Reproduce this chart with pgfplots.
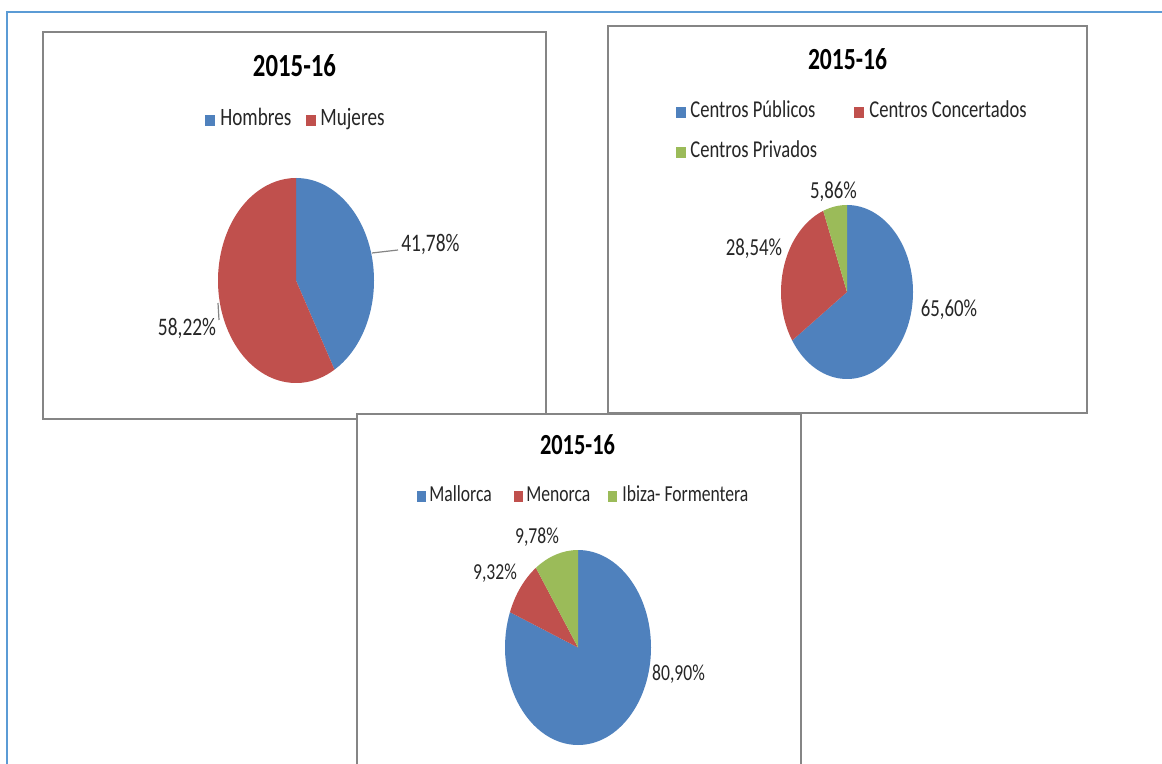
\documentclass[border=0pt]{standalone}
\usepackage{pgfplots}
\pgfplotsset{compat=1.18}
\usepackage{pgfplotstable}
\usepackage{graphicx}
\usepackage{fontspec}
\setmainfont{Carlito}

\definecolor{pieblue}{HTML}{4F81BD}
\definecolor{piered}{HTML}{C0504D}
\definecolor{piegreen}{HTML}{9BBB59}
\definecolor{pageblue}{HTML}{5B9BD5}
\definecolor{framegray}{HTML}{858585}
\definecolor{labelgray}{HTML}{262626}

% shares in percent, clockwise from 12 o'clock
\pgfplotstableread{
share colour
41.78 pieblue
58.22 piered
}\sexo
\pgfplotstableread{
share colour
65.60 pieblue
28.54 piered
5.86  piegreen
}\centros
\pgfplotstableread{
share colour
80.90 pieblue
9.32  piered
9.78  piegreen
}\islas

% 1 px of the reference = 0.5pt
% #1 table, #2 #3 centre, #4 #5 radii (px)
\newcommand{\pie}[5]{%
  \pgfplotstablegetrowsof{#1}%
  \pgfmathtruncatemacro\lastrow{\pgfplotsretval-1}%
  \pgfmathsetmacro\rxl{#4*0.5}%
  \pgfmathsetmacro\ryl{#5*0.5}%
  \gdef\startangle{90}%
  \foreach \r in {0,...,\lastrow}{%
    \pgfplotstablegetelem{\r}{share}\of#1\let\share\pgfplotsretval
    \pgfplotstablegetelem{\r}{colour}\of#1\let\colour\pgfplotsretval
    \pgfmathsetmacro\endangle{\startangle-3.6*\share}%
    \fill[fill=\colour] (axis cs:#2,#3) -- ++(\startangle:\rxl pt and \ryl pt)
      arc[start angle=\startangle, end angle=\endangle,
          x radius=\rxl pt, y radius=\ryl pt] -- cycle;
    \xdef\startangle{\endangle}%
  }%
}

% narrow, tall text as in the reference
\newcommand{\lbl}[2]{\fontsize{#1}{#1}\selectfont\scalebox{1}[1.3]{#2}}

\tikzset{
  txt/.style={inner sep=0pt, text=labelgray},
  panel/.style={draw=framegray, line width=1pt, fill=white},
}

\begin{document}
\begin{tikzpicture}
\begin{axis}[
  name=canvas,
  width=581pt, height=382pt, scale only axis,
  xmin=0, xmax=1162, ymin=0, ymax=764, y dir=reverse,
  hide axis, clip=false,
]
% page frame
\draw[pageblue, line width=1pt] (axis cs:7,764) -- (axis cs:7,12) -- (axis cs:1162,12);

% ---- panel 1: sexo
\draw[panel] (axis cs:43,32) rectangle (axis cs:546,419);
\node[txt, anchor=base, text=black] at (axis cs:294.5,77) {\lbl{12.4}{\bfseries 2015-16}};
\fill[pieblue] (axis cs:205,115) rectangle (axis cs:215,126);
\node[txt, anchor=base west] at (axis cs:220,126) {\lbl{9.6}{Hombres}};
\fill[piered] (axis cs:306,115) rectangle (axis cs:316,126);
\node[txt, anchor=base west] at (axis cs:320,126) {\lbl{9.6}{Mujeres}};
\pgfplotsextra{\pie{\sexo}{296}{280.5}{78}{102.5}}
\draw[framegray, line width=0.6pt] (axis cs:372,253) -- (axis cs:398,250);
\draw[framegray, line width=0.6pt] (axis cs:218,303) -- (axis cs:219,320);
\node[txt, anchor=base west] at (axis cs:401,252) {\lbl{9.7}{41,78\%}};
\node[txt, anchor=base] at (axis cs:187,336) {\lbl{9.7}{58,22\%}};

% ---- panel 2: centros
\draw[panel] (axis cs:608,26) rectangle (axis cs:1087,413);
\node[txt, anchor=base, text=black] at (axis cs:847.5,70) {\lbl{11.8}{\bfseries 2015-16}};
\fill[pieblue] (axis cs:676,107) rectangle (axis cs:686,118);
\node[txt, anchor=base west] at (axis cs:690,118) {\lbl{9.3}{Centros Públicos}};
\fill[piered] (axis cs:854,107) rectangle (axis cs:864,118);
\node[txt, anchor=base west] at (axis cs:869,118) {\lbl{9.3}{Centros Concertados}};
\fill[piegreen] (axis cs:676,147) rectangle (axis cs:686,158);
\node[txt, anchor=base west] at (axis cs:690,158) {\lbl{9.3}{Centros Privados}};
\pgfplotsextra{\pie{\centros}{847}{292}{66}{87}}
\node[txt, anchor=base] at (axis cs:833.5,199) {\lbl{9.4}{5,86\%}};
\node[txt, anchor=base] at (axis cs:754,256) {\lbl{9.4}{28,54\%}};
\node[txt, anchor=base] at (axis cs:949,317) {\lbl{9.4}{65,60\%}};

% ---- panel 3: islas
\fill[white] (axis cs:357,414) rectangle (axis cs:801,764);
\draw[framegray, line width=1pt] (axis cs:357,764) -- (axis cs:357,414)
  -- (axis cs:801,414) -- (axis cs:801,764);
\node[txt, anchor=base, text=black] at (axis cs:577.5,455) {\lbl{11.2}{\bfseries 2015-16}};
\fill[pieblue] (axis cs:417,491) rectangle (axis cs:426,502);
\node[txt, anchor=base west] at (axis cs:429,502) {\lbl{8.8}{Mallorca}};
\fill[piered] (axis cs:514,491) rectangle (axis cs:523,502);
\node[txt, anchor=base west] at (axis cs:526,502) {\lbl{8.8}{Menorca}};
\fill[piegreen] (axis cs:608,491) rectangle (axis cs:617,502);
\node[txt, anchor=base west] at (axis cs:622,502) {\lbl{8.8}{Ibiza- Formentera}};
\pgfplotsextra{\pie{\islas}{578}{647.5}{73}{97.5}}
\node[txt, anchor=base] at (axis cs:537,544) {\lbl{8.8}{9,78\%}};
\node[txt, anchor=base] at (axis cs:495,580) {\lbl{8.8}{9,32\%}};
\node[txt, anchor=base] at (axis cs:678.5,680) {\lbl{8.8}{80,90\%}};
\end{axis}
\pgfresetboundingbox
\path[use as bounding box] (canvas.south west) rectangle (canvas.north east);
\end{tikzpicture}
\end{document}
